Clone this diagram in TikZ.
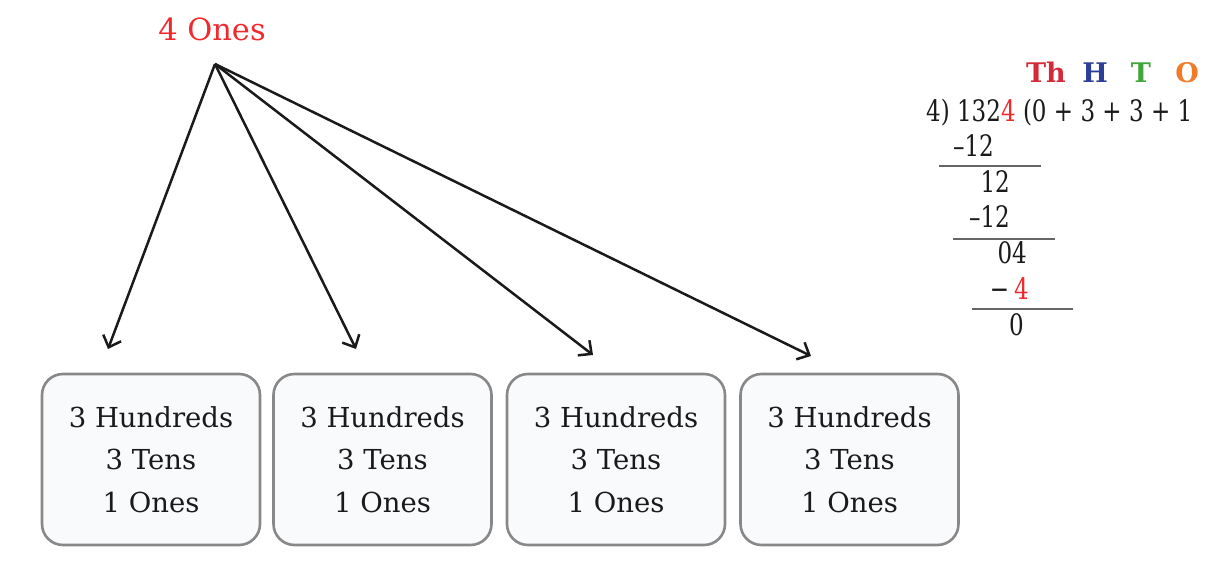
\documentclass[tikz,border=0pt]{standalone}
\usepackage{fontspec}
\setmainfont{DejaVu Serif}
\newfontfamily\divfont{DejaVu Serif}[FakeStretch=0.78]
\usetikzlibrary{arrows.meta}
\definecolor{onesred}{HTML}{EE2A2F}
\definecolor{thred}{HTML}{D42A3A}
\definecolor{hblue}{HTML}{2B3F98}
\definecolor{tgreen}{HTML}{3EA63A}
\definecolor{oorange}{HTML}{F27B2A}
\definecolor{boxfill}{HTML}{F8FAFC}
\definecolor{boxline}{HTML}{888888}
\definecolor{ink}{HTML}{1A1A1A}
\definecolor{rule}{HTML}{666666}
\tikzset{
  placebox/.style={draw=boxline, line width=2.6pt, fill=boxfill, rounded corners=21pt,
    minimum width=218pt, minimum height=171pt, align=center, text=ink,
    font=\fontsize{27.5}{42.5}\selectfont},
  splitarrow/.style={draw=ink, line width=2.5pt, -{Straight Barb[length=10pt,width=19pt,line width=2.5pt]}},
  divtext/.style={inner sep=0pt, text=ink, font=\divfont\fontsize{29.5}{32}\selectfont},
  headtext/.style={inner sep=0pt, anchor=base, font=\fontsize{27}{30}\selectfont\bfseries},
  divrule/.style={draw=rule, line width=2.2pt}
}
\begin{document}
\begin{tikzpicture}[x=1pt,y=-1pt]
\useasboundingbox (0,0) rectangle (1219,565);
% title
\node[inner sep=0pt, anchor=base, text=onesred, font=\fontsize{30.5}{33}\selectfont] (ones) at (212,40) {4 Ones};
\coordinate (apex) at (215,64);
% boxes
\node[placebox] (b1) at (151,459.5) {3 Hundreds\\3 Tens\\1 Ones};
\node[placebox] (b2) at (382.5,459.5) {3 Hundreds\\3 Tens\\1 Ones};
\node[placebox] (b3) at (616,459.5) {3 Hundreds\\3 Tens\\1 Ones};
\node[placebox] (b4) at (849.5,459.5) {3 Hundreds\\3 Tens\\1 Ones};
% arrow ends
\coordinate (e1) at (108,349);
\coordinate (e2) at (356,349);
\coordinate (e3) at (593,355);
\coordinate (e4) at (811,356);
\draw[splitarrow] (apex) -- (e1);
\draw[splitarrow] (apex) -- (e2);
\draw[splitarrow] (apex) -- (e3);
\draw[splitarrow] (apex) -- (e4);
% place value heading
\node[headtext, text=thred] (th) at (1046,82) {Th};
\node[headtext, text=hblue] (hh) at (1095,82) {H};
\node[headtext, text=tgreen] (tt) at (1141,82) {T};
\node[headtext, text=oorange] (oo) at (1187,82) {O};
% division
\node[divtext, anchor=base west] (l0) at (926,121) {4) 132\textcolor{onesred}{4} (0 + 3 + 3 + 1};
\node[divtext, anchor=base east] (l1) at (994,156) {–12};
\coordinate (r1a) at (939,166); \coordinate (r1b) at (1041,166);
\draw[divrule] (r1a) -- (r1b);
\node[divtext, anchor=base east] (l2) at (1010,192) {12};
\node[divtext, anchor=base east] (l3) at (1010,227) {–12};
\coordinate (r2a) at (953,239); \coordinate (r2b) at (1055,239);
\draw[divrule] (r2a) -- (r2b);
\node[divtext, anchor=base east] (l4) at (1027,263) {04};
\node[divtext, anchor=base east] (l5) at (1029,299) {−\,\textcolor{onesred}{4}};
\coordinate (r3a) at (972,309); \coordinate (r3b) at (1073,309);
\draw[divrule] (r3a) -- (r3b);
\node[divtext, anchor=base east] (l6) at (1024,335) {0};
\end{tikzpicture}
\end{document}
